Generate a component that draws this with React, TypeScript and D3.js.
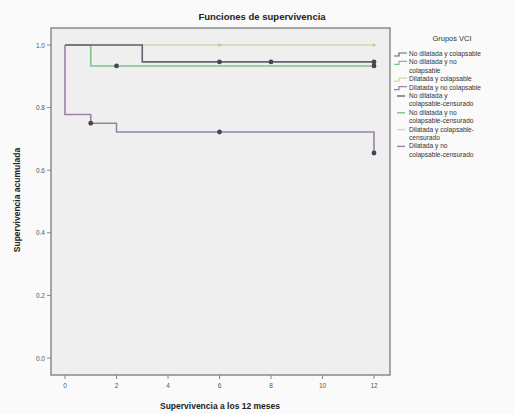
import React from 'react';
import * as d3 from 'd3';

// groups, in legend order
const groupNames = [
	'No dilatada y colapsable',
	'No dilatada y no colapsable',
	'Dilatada y colapsable',
	'Dilatada y no colapsable',
];
const groupColors = ['#6b5f73', '#7fc28a', '#d9d3a6', '#9c82a8'];

// step points (time, survival) for each group
const timesA = [0, 3, 12];
const survA = [1.0, 0.946, 0.946];
const censorA = [6, 8, 12];

const timesB = [0, 1, 12];
const survB = [1.0, 0.933, 0.933];
const censorB = [2, 12];

const timesC = [0, 12];
const survC = [1.0, 1.0];
const censorC = [6, 12];

const timesD = [0, 0, 1, 2, 12];
const survD = [1.0, 0.778, 0.75, 0.722, 0.655];
const censorD = [1, 6, 12];

const xTicks = [0, 2, 4, 6, 8, 10, 12];
const yTicks = [0, 0.2, 0.4, 0.6, 0.8, 1.0];

const legendLines = [
	['No dilatada y colapsable'],
	['No dilatada y no', 'colapsable'],
	['Dilatada y colapsable'],
	['Dilatada y no colapsable'],
	['No dilatada y', 'colapsable-censurado'],
	['No dilatada y no', 'colapsable-censurado'],
	['Dilatada y colapsable-', 'censurado'],
	['Dilatada y no', 'colapsable-censurado'],
];

const App = () => {
	const svgWidth = 515;
	const svgHeight = 414;
	const frame = { left: 51, top: 28, right: 390, bottom: 375 };

	const xScale = d3.scaleLinear().domain([0, 12]).range([65, 374]);
	const yScale = d3.scaleLinear().domain([0, 1]).range([358, 45]);

	const series = [
		{ times: timesA, surv: survA, censor: censorA },
		{ times: timesB, surv: survB, censor: censorB },
		{ times: timesC, surv: survC, censor: censorC },
		{ times: timesD, surv: survD, censor: censorD },
	];

	// survival value at time t (right-continuous step)
	const survAt = (s, t) => {
		let v = s.surv[0];
		s.times.forEach((tt, i) => {
			if (tt <= t) v = s.surv[i];
		});
		return v;
	};

	const line = d3
		.line()
		.x((d) => xScale(d[0]))
		.y((d) => yScale(d[1]))
		.curve(d3.curveStepAfter);

	const font = "'Liberation Sans', Arial, sans-serif";
	const drawOrder = [2, 1, 0, 3];

	// legend rows
	const legendRows = [];
	let ly = 56;
	legendLines.forEach((lines, i) => {
		legendRows.push({ i, y: ly, lines });
		ly += lines.length * 8.4;
	});

	return (
		<svg
			width={svgWidth}
			height={svgHeight}
			style={{ position: 'absolute', left: 0, top: 0, background: '#fafafa' }}
		>
			{/* title */}
			<text
				x={262}
				y={20}
				textAnchor='middle'
				fontFamily={font}
				fontWeight='bold'
				fontSize={9.5}
				fill='#222'
			>
				Funciones de supervivencia
			</text>
			{/* plot frame */}
			<rect
				x={frame.left}
				y={frame.top}
				width={frame.right - frame.left}
				height={frame.bottom - frame.top}
				fill='#efefef'
				stroke='#8a8a8a'
				strokeWidth={1.5}
			/>
			{/* y axis */}
			{yScale.ticks(5).map((v) => (
				<g key={'y' + v}>
					<line
						x1={frame.left - 4}
						x2={frame.left}
						y1={yScale(v)}
						y2={yScale(v)}
						stroke='#888'
					/>
					<text
						x={frame.left - 6}
						y={yScale(v) + 2.5}
						textAnchor='end'
						fontFamily={font}
						fontSize={6.5}
						fill='#555'
					>
						{d3.format('.1f')(v)}
					</text>
				</g>
			))}
			{/* x axis */}
			{xTicks.map((v) => (
				<g key={'x' + v}>
					<line
						x1={xScale(v)}
						x2={xScale(v)}
						y1={frame.bottom}
						y2={frame.bottom + 4}
						stroke='#888'
					/>
					<text
						x={xScale(v)}
						y={frame.bottom + 13}
						textAnchor='middle'
						fontFamily={font}
						fontSize={6.5}
						fill='#555'
					>
						{v}
					</text>
				</g>
			))}
			<text
				x={220}
				y={409}
				textAnchor='middle'
				fontFamily={font}
				fontWeight='bold'
				fontSize={8.5}
				fill='#222'
			>
				Supervivencia a los 12 meses
			</text>
			<text
				transform={`translate(20, ${200}) rotate(-90)`}
				textAnchor='middle'
				fontFamily={font}
				fontWeight='bold'
				fontSize={8.5}
				fill='#222'
			>
				Supervivencia acumulada
			</text>
			{/* curves */}
			{drawOrder.map((gi) => {
				const s = series[gi];
				const pts = s.times.map((t, i) => [t, s.surv[i]]);
				return (
					<path
						key={'c' + gi}
						d={line(pts)}
						fill='none'
						stroke={groupColors[gi]}
						strokeWidth={1.6}
					/>
				);
			})}
			{/* censor marks */}
			{drawOrder.map((gi) => {
				const s = series[gi];
				return s.censor.map((t) => (
					<g key={'m' + gi + '-' + t}>
						<circle
							cx={xScale(t)}
							cy={yScale(survAt(s, t))}
							r={gi === 2 ? 1.6 : 2.4}
							fill={gi === 2 ? '#c9c39a' : '#4a4350'}
						/>
					</g>
				));
			})}
			{/* legend */}
			<text
				x={452}
				y={41}
				textAnchor='middle'
				fontFamily={font}
				fontSize={7.5}
				fill='#333'
			>
				Grupos VCI
			</text>
			{legendRows.map((row) => {
				const c = groupColors[row.i % 4];
				const symY = row.y - 2;
				return (
					<g key={'l' + row.i}>
						{row.i < 4 ? (
							<path
								d={`M394,${symY + 2}L399,${symY + 2}L399,${symY - 1}L407,${symY - 1}`}
								fill='none'
								stroke={c}
								strokeWidth={1.2}
							/>
						) : (
							<line
								x1={397}
								x2={405}
								y1={symY}
								y2={symY}
								stroke={c}
								strokeWidth={1.4}
							/>
						)}
						{row.lines.map((t, j) => (
							<text
								key={j}
								x={409}
								y={row.y + j * 8.4}
								fontFamily={font}
								fontSize={6.6}
								fill='#333'
							>
								{t}
							</text>
						))}
					</g>
				);
			})}
		</svg>
	);
};

export default App;
